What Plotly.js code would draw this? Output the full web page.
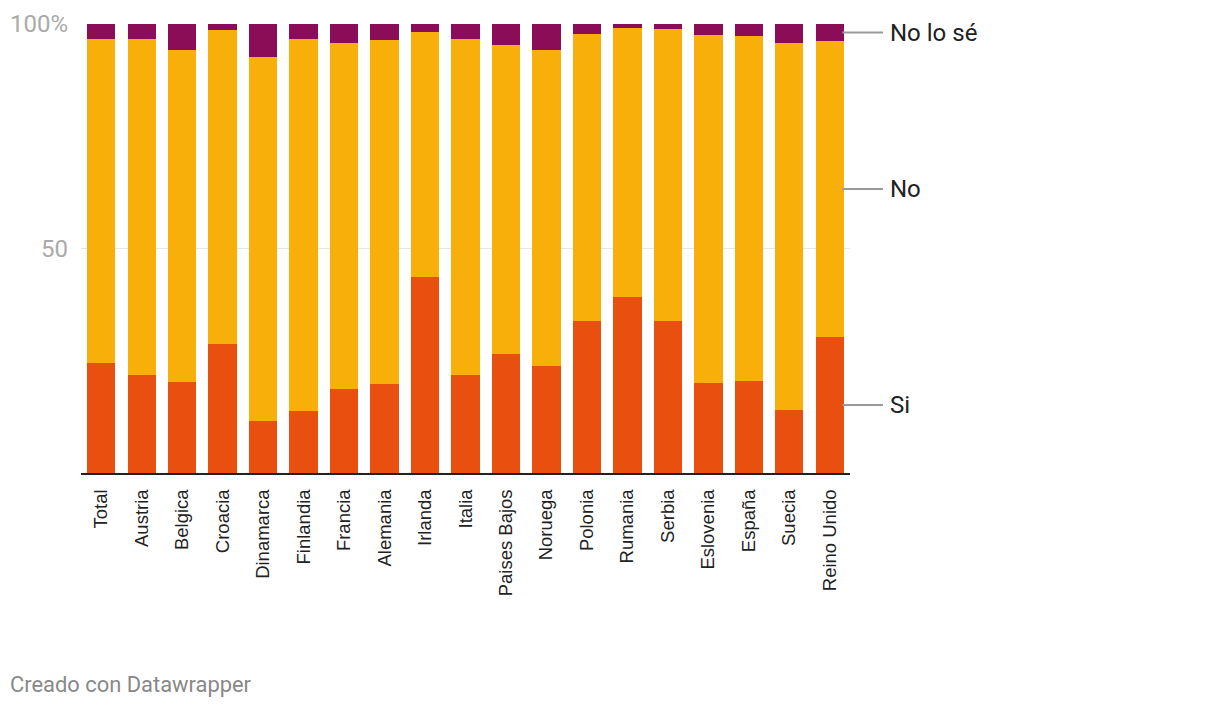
<!DOCTYPE html>
<html>
<head>
<meta charset="utf-8">
<script src="https://cdn.plot.ly/plotly-3.0.1.min.js"></script>
<style>
html,body{margin:0;padding:0;background:#fff;}
#chart{width:1220px;height:708px;}
</style>
</head>
<body>
<div id="chart"></div>
<script>
const countries = ["Total","Austria","Belgica","Croacia","Dinamarca","Finlandia","Francia","Alemania","Irlanda","Italia","Paises Bajos","Noruega","Polonia","Rumania","Serbia","Eslovenia","España","Suecia","Reino Unido"];
const si =      [24.5,21.8,20.3,28.7,11.6,13.8,18.7,19.8,43.7,21.8,26.5,23.8,33.9,39.2,33.9,20.0,20.5,14.0,30.3];
const noLoSe =  [3.3,3.3,5.8,1.3,7.3,3.3,4.2,3.6,1.8,3.3,4.7,5.8,2.2,0.9,1.1,2.4,2.7,4.2,3.8];
const no = si.map((v,i)=> +(100 - v - noLoSe[i]).toFixed(1));

const seriesNames = ["Si","No","No lo sé"];
const seriesColors = ["#e94f0f","#f9af0a","#8b0d57"];
const seriesValues = [si,no,noLoSe];

const traces = seriesValues.map((vals,k)=>({
  type:"bar", x:countries, y:vals, name:seriesNames[k],
  marker:{color:seriesColors[k], line:{width:0}},
  hoverinfo:"x+y+name"
}));

// label positions: midpoints of the last bar's segments
const last = countries.length-1;
let base = 0;
const annotations = [];
const shapes = [];
seriesValues.forEach((vals,k)=>{
  const mid = base + vals[last]/2;
  base += vals[last];
  shapes.push({type:"line", xref:"paper", yref:"y", x0:0.99, x1:1.043, y0:mid, y1:mid, line:{color:"#999", width:2}});
  annotations.push({xref:"paper", yref:"y", x:1.049, y:mid, xanchor:"left", yanchor:"middle", text:seriesNames[k], showarrow:false, font:{family:"Roboto", size:24, color:"#222"}});
});
annotations.push({xref:"paper", yref:"paper", x:-0.0955, y:-0.472, xanchor:"left", yanchor:"middle", text:"Creado con Datawrapper", showarrow:false, font:{family:"Roboto", size:21.9, color:"#888"}});

const layout = {
  width:1220, height:708,
  margin:{l:81, r:370, t:24, b:235},
  paper_bgcolor:"#fff", plot_bgcolor:"#fff",
  barmode:"stack", bargap:0.3,
  showlegend:false,
  font:{family:"Roboto"},
  xaxis:{tickangle:-90, tickfont:{family:"Liberation Sans", size:18.5, color:"#222"}, showline:true, linecolor:"#222", linewidth:2, ticks:"", ticklabelstandoff:7, fixedrange:true, showgrid:false},
  yaxis:{range:[0,100], tickvals:[50,100], ticktext:["50","100%"], tickfont:{family:"Roboto", size:24, color:"#aaa"}, showgrid:true, gridcolor:"#e6e6e6", gridwidth:1, zeroline:false, showline:false, ticks:"", ticklabelstandoff:12, fixedrange:true},
  annotations: annotations,
  shapes: shapes
};
Plotly.newPlot("chart", traces, layout, {displayModeBar:false, staticPlot:true});
</script>
</body>
</html>
